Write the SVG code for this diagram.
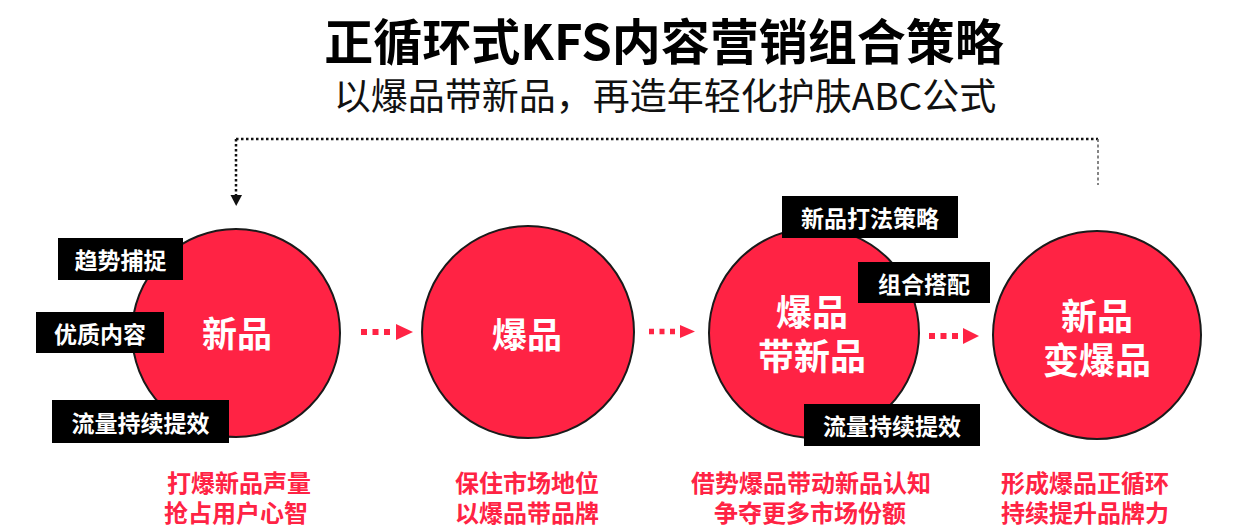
<svg xmlns="http://www.w3.org/2000/svg" width="1238" height="532" viewBox="0 0 1238 532">
<style>
.cjk{font-family:"Noto Sans CJK SC","Liberation Sans",sans-serif;}
.title{font-size:49px;font-weight:700;fill:#000;text-anchor:middle;dominant-baseline:central;}
.sub{font-size:37px;font-weight:400;fill:#111;text-anchor:middle;dominant-baseline:central;}
.circ{fill:#FF2344;stroke:#1a1a1a;stroke-width:2;}
.ctext{font-size:35px;font-weight:700;fill:#fff;text-anchor:middle;dominant-baseline:central;}
.box{fill:#000;}
.btext{font-size:23px;font-weight:700;fill:#fff;text-anchor:middle;dominant-baseline:central;}
.cap{font-size:24px;font-weight:700;fill:#FF2344;text-anchor:middle;dominant-baseline:central;}
.dot{fill:none;stroke:#FF2344;stroke-width:6;stroke-dasharray:6 5.5;}
.head{fill:#FF2344;}
.loop{fill:none;stroke:#111;stroke-width:2.5;stroke-dasharray:2.5 2.5;}
.loop2{fill:none;stroke:#666;stroke-width:1.6;stroke-dasharray:3 2.5;}
</style>
<rect width="1238" height="532" fill="#fff"/>
<g id="title" class="cjk">
<text class="title" x="664" y="38">正循环式KFS内容营销组合策略</text>
<text class="sub" x="665" y="94">以爆品带新品，再造年轻化护肤ABC公式</text>
</g>
<g id="connectors">
<path class="loop" d="M236,139 H1098"/>
<path class="loop" d="M236,139 V196"/>
<path class="loop2" d="M1098,139 V185"/>
<polygon fill="#111" points="230.5,195 242,195 236.2,206"/>
<path class="dot" d="M361,332 H393"/>
<polygon class="head" points="396,324 413,332 396,340"/>
<path class="dot" d="M649,331.5 H678" style="stroke-width:5.5;stroke-dasharray:5 5.5"/>
<polygon class="head" points="680,325 695,331.5 680,338"/>
<path class="dot" d="M929,336 H961"/>
<polygon class="head" points="963,328 979,336 963,344"/>
</g>
<g id="node-xinpin" class="cjk">
<circle class="circ" cx="236" cy="333" r="104"/>
<text class="ctext" x="237" y="331.5">新品</text>
</g>
<g id="node-baopin" class="cjk">
<circle class="circ" cx="528" cy="332" r="106"/>
<text class="ctext" x="527" y="332">爆品</text>
</g>
<g id="node-baopin-dai" class="cjk">
<circle class="circ" cx="814" cy="333" r="105"/>
<text class="ctext" style="font-size:36px"><tspan x="812" y="310">爆品</tspan><tspan x="812" y="354">带新品</tspan></text>
</g>
<g id="node-bian" class="cjk">
<circle class="circ" cx="1097" cy="335" r="104"/>
<text class="ctext" style="font-size:36px"><tspan x="1097" y="313.5">新品</tspan><tspan x="1097" y="357.5">变爆品</tspan></text>
</g>
<g id="label-qushi" class="cjk">
<rect class="box" x="58" y="238" width="125" height="42"/>
<text class="btext" x="120.5" y="259">趋势捕捉</text>
</g>
<g id="label-youzhi" class="cjk">
<rect class="box" x="36" y="312" width="128" height="41"/>
<text class="btext" x="100" y="332.5">优质内容</text>
</g>
<g id="label-liuliang1" class="cjk">
<rect class="box" x="52" y="400" width="177" height="43"/>
<text class="btext" x="140.5" y="421.5">流量持续提效</text>
</g>
<g id="label-dafa" class="cjk">
<rect class="box" x="782" y="196" width="176" height="42"/>
<text class="btext" x="870" y="217">新品打法策略</text>
</g>
<g id="label-zuhe" class="cjk">
<rect class="box" x="858" y="262" width="132" height="41"/>
<text class="btext" x="924" y="282.5">组合搭配</text>
</g>
<g id="label-liuliang2" class="cjk">
<rect class="box" x="804" y="404" width="176" height="42"/>
<text class="btext" x="892" y="425">流量持续提效</text>
</g>
<g id="captions" class="cjk">
<text class="cap"><tspan x="239" y="481">打爆新品声量</tspan><tspan x="236" y="511">抢占用户心智</tspan></text>
<text class="cap"><tspan x="527" y="481">保住市场地位</tspan><tspan x="527" y="511">以爆品带品牌</tspan></text>
<text class="cap"><tspan x="811" y="481">借势爆品带动新品认知</tspan><tspan x="810" y="511">争夺更多市场份额</tspan></text>
<text class="cap"><tspan x="1085" y="481">形成爆品正循环</tspan><tspan x="1085" y="511">持续提升品牌力</tspan></text>
</g>
</svg>
